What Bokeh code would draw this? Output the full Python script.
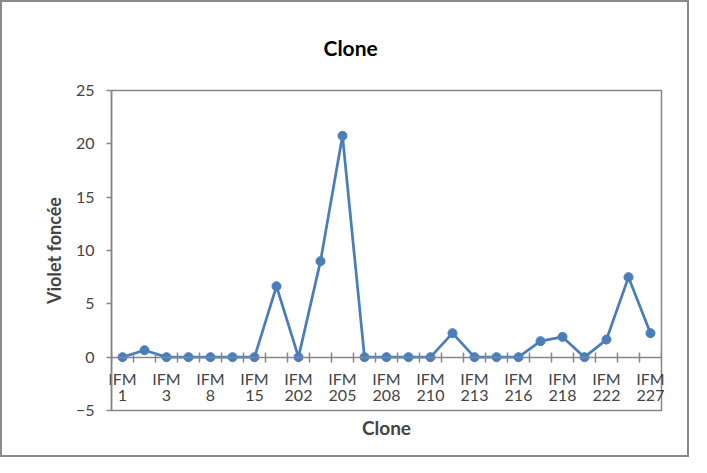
from bokeh.plotting import figure
from bokeh.models import LinearAxis, FixedTicker, Range1d
from bokeh.embed import file_html
from bokeh.resources import INLINE

categories = ["IFM 1", "IFM 2", "IFM 3", "IFM 5", "IFM 8", "IFM 10", "IFM 15",
              "IFM 201", "IFM 202", "IFM 204", "IFM 205", "IFM 207", "IFM 208",
              "IFM 209", "IFM 210", "IFM 212", "IFM 213", "IFM 215", "IFM 216",
              "IFM 217", "IFM 218", "IFM 220", "IFM 222", "IFM 225", "IFM 227"]
values = [0, 0.65, 0, 0, 0, 0, 0, 6.65, 0, 9.0, 20.75, 0, 0, 0, 0, 2.25,
          0, 0, 0, 1.5, 1.9, 0, 1.65, 7.5, 2.25]
y_ticks = [-5, 0, 5, 10, 15, 20, 25]
chart_title = "Clone"
x_title = "Clone"
y_title = "Violet foncée"

FONT = "Lato"
GRAY = "#868686"
BLUE = "#4A7EBB"

n = len(categories)
x = list(range(n))

p = figure(width=689, height=457,
           x_range=Range1d(-0.5, n - 0.5), y_range=Range1d(y_ticks[0], y_ticks[-1]),
           x_axis_type=None, y_axis_type=None,
           output_backend="svg", toolbar_location=None,
           min_border_left=109, min_border_right=30, min_border_top=88, min_border_bottom=49)
p.styles = {"border": "2px solid #8a8a8a"}
p.outline_line_color = GRAY
p.outline_line_width = 1.5
p.background_fill_color = "white"
p.border_fill_color = "white"

p.title.text = chart_title
p.title.align = "left"
p.title.text_font = FONT
p.title.text_font_style = "bold"
p.title.text_font_size = "21px"
p.title.text_color = "black"
p.title.standoff = 61
p.title.offset = 212

# y axis
ya = LinearAxis(ticker=FixedTicker(ticks=y_ticks))
ya.axis_label = y_title
ya.axis_label_text_font = FONT
ya.axis_label_text_font_style = "bold"
ya.axis_label_text_font_size = "18px"
ya.axis_label_standoff = 8
ya.major_label_text_font = FONT
ya.major_label_text_font_size = "16px"
ya.major_label_standoff = 12
ya.major_tick_in = 0
ya.major_tick_out = 5
ya.minor_tick_line_color = None
ya.axis_line_color = GRAY
ya.axis_line_width = 1.5
ya.major_tick_line_color = GRAY
ya.major_tick_line_width = 1.5
p.add_layout(ya, "left")

# x axis line at y = 0 with crossing tick marks at category boundaries
xb = LinearAxis(ticker=FixedTicker(ticks=[], minor_ticks=[i - 0.5 for i in range(n + 1)]),
                fixed_location=0)
xb.major_tick_line_color = None
xb.minor_tick_in = 5
xb.minor_tick_out = 5
xb.minor_tick_line_color = GRAY
xb.minor_tick_line_width = 1.5
xb.axis_line_color = GRAY
xb.axis_line_width = 1.5
p.add_layout(xb, "below")

# category labels (every other), two rows just under the zero line
lab_ticks = x[::2]
words = [c.split(" ", 1) for c in categories]

def label_axis(row, standoff):
    ax = LinearAxis(ticker=FixedTicker(ticks=lab_ticks))
    ax.major_label_overrides = {i: words[i][row] for i in lab_ticks}
    ax.major_label_text_font = FONT
    ax.major_label_text_font_size = "16px"
    ax.major_label_standoff = standoff
    ax.major_tick_in = 0
    ax.major_tick_out = 0
    ax.major_tick_line_color = None
    ax.minor_tick_in = 0
    ax.minor_tick_out = 0
    ax.minor_tick_line_color = None
    ax.axis_line_color = None
    return ax

xl1 = label_axis(0, -42)
p.add_layout(xl1, "below")
xl2 = label_axis(1, -21)
xl2.axis_label = x_title
xl2.axis_label_text_font = FONT
xl2.axis_label_text_font_style = "bold"
xl2.axis_label_text_font_size = "19px"
xl2.axis_label_standoff = 12
p.add_layout(xl2, "below")

p.line(x, values, line_color=BLUE, line_width=2.75)
p.scatter(x, values, size=9, fill_color=BLUE, line_color=BLUE)

open("out.html", "w").write(file_html(p, INLINE))
